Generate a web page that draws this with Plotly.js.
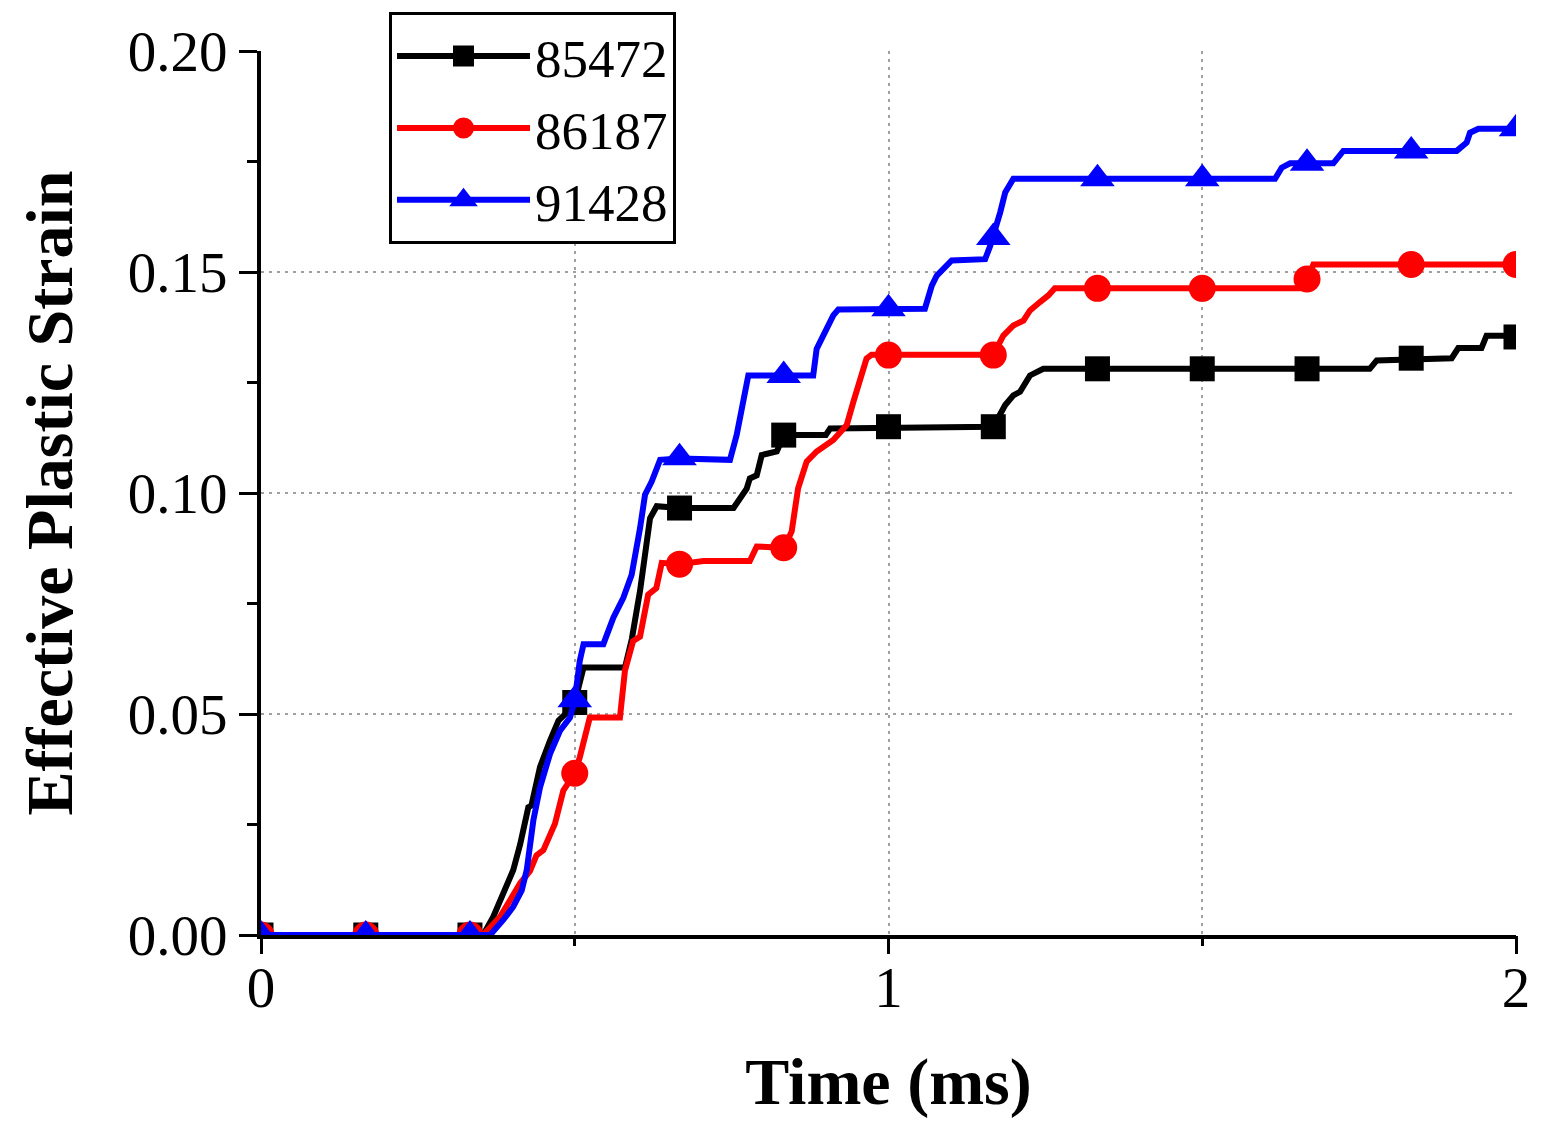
<!DOCTYPE html>
<html>
<head>
<meta charset="utf-8">
<script src="https://cdn.plot.ly/plotly-3.0.1.min.js"></script>
<style>
  html, body { margin: 0; padding: 0; background: #fff; }
  #graph { width: 1549px; height: 1132px; }
</style>
</head>
<body>
<div id="graph"></div>
<script>
// Data (time in ms, effective plastic strain)
const seriesNames = ["85472", "86187", "91428"];

const time85472 = [0, 0.354, 0.370, 0.3915, 0.402, 0.413, 0.426, 0.431, 0.4446, 0.4606, 0.474, 0.49, 0.5, 0.514, 0.58, 0.591, 0.604, 0.62, 0.6306, 0.667, 0.753, 0.774, 0.779, 0.79, 0.798, 0.822, 0.8335, 0.90, 0.907, 1.167, 1.186, 1.199, 1.2096, 1.2255, 1.2467, 1.767, 1.778, 1.8975, 1.908, 1.945, 1.953, 2.0];
const strain85472 = [0, 0, 0.0041, 0.0109, 0.0147, 0.0205, 0.0289, 0.0293, 0.038, 0.044, 0.0485, 0.0507, 0.0526, 0.0605, 0.0605, 0.067, 0.0778, 0.0943, 0.097, 0.0966, 0.0966, 0.101, 0.1033, 0.104, 0.1086, 0.1094, 0.1131, 0.1131, 0.1146, 0.115, 0.1199, 0.1221, 0.1229, 0.1266, 0.1281, 0.1281, 0.13, 0.1305, 0.1328, 0.1328, 0.1356, 0.1356];

const time86187 = [0, 0.354, 0.381, 0.402, 0.413, 0.4287, 0.439, 0.45, 0.4606, 0.4685, 0.4818, 0.5, 0.508, 0.524, 0.572, 0.58, 0.593, 0.604, 0.617, 0.63, 0.6386, 0.667, 0.705, 0.779, 0.79, 0.8335, 0.8457, 0.856, 0.8696, 0.8855, 0.912, 0.9335, 0.944, 0.9546, 0.965, 0.973, 1.167, 1.183, 1.199, 1.215, 1.2255, 1.2414, 1.2547, 1.265, 1.6558, 1.667, 1.677, 2.0];
const strain86187 = [0, 0, 0.0041, 0.0094, 0.0117, 0.0145, 0.018, 0.0192, 0.023, 0.0252, 0.0327, 0.0366, 0.0402, 0.0492, 0.0492, 0.0598, 0.0665, 0.0675, 0.077, 0.0785, 0.0842, 0.0839, 0.0846, 0.0846, 0.0879, 0.0876, 0.0913, 0.1011, 0.1071, 0.1094, 0.112, 0.1154, 0.1206, 0.1251, 0.1304, 0.1313, 0.1313, 0.1356, 0.1379, 0.139, 0.1413, 0.1432, 0.1447, 0.1463, 0.1463, 0.1484, 0.1517, 0.1517];

const time91428 = [0, 0.365, 0.386, 0.402, 0.4155, 0.4235, 0.434, 0.4446, 0.4606, 0.4765, 0.4924, 0.5, 0.508, 0.514, 0.5456, 0.5615, 0.5774, 0.5907, 0.604, 0.612, 0.6226, 0.636, 0.667, 0.7474, 0.758, 0.7686, 0.7766, 0.88, 0.8855, 0.896, 0.912, 0.92, 1.058, 1.069, 1.077, 1.0875, 1.1007, 1.154, 1.162, 1.178, 1.186, 1.199, 1.616, 1.6266, 1.64, 1.7089, 1.7248, 1.9055, 1.9214, 1.9267, 1.94, 2.0];
const strain91428 = [0, 0, 0.0034, 0.0064, 0.0101, 0.0147, 0.0259, 0.0334, 0.041, 0.0462, 0.0492, 0.0532, 0.062, 0.0658, 0.0658, 0.0718, 0.0763, 0.0815, 0.092, 0.0996, 0.1026, 0.1075, 0.1078, 0.1075, 0.1131, 0.1214, 0.1266, 0.1266, 0.1326, 0.1356, 0.1402, 0.1415, 0.1417, 0.1469, 0.1492, 0.1507, 0.1526, 0.1529, 0.1559, 0.1635, 0.168, 0.1711, 0.1711, 0.1736, 0.1746, 0.1746, 0.1774, 0.1774, 0.1793, 0.1815, 0.1824, 0.1824];

// symbols are only drawn at these times
const markerTime = [0, 0.167, 0.333, 0.5, 0.667, 0.833, 1.0, 1.167, 1.333, 1.5, 1.667, 1.833, 2.0];
const marker85472 = [0, 0, 0, 0.0526, 0.0966, 0.1131, 0.115, 0.115, 0.1281, 0.1281, 0.1281, 0.1305, 0.1353];
const marker86187 = [0, 0, 0, 0.0366, 0.0839, 0.0876, 0.1312, 0.1312, 0.1463, 0.1463, 0.1484, 0.1517, 0.1517];
const marker91428 = [0, 0, 0, 0.0532, 0.108, 0.1266, 0.1417, 0.1578, 0.1711, 0.1711, 0.1746, 0.1774, 0.1824];

const FONT = "Liberation Serif, Times New Roman, serif";

const styles = [
  { color: "#000000", symbol: "square", size: 25 },
  { color: "#ff0000", symbol: "circle", size: 27 },
  { color: "#0000ff", symbol: "triangle-up", size: 30 },
];
const lineTimes = [time85472, time86187, time91428];
const lineValues = [strain85472, strain86187, strain91428];
const markerValues = [marker85472, marker86187, marker91428];

let traces = [];

for (let i = 0; i < seriesNames.length; i++) {
  const st = styles[i];
  // the curve
  traces.push({
    x: lineTimes[i],
    y: lineValues[i],
    mode: "lines",
    type: "scatter",
    line: { color: st.color, width: 6 },
    showlegend: false,
    hoverinfo: "skip",
  });
  // sparse symbols on the curve
  traces.push({
    x: markerTime,
    y: markerValues[i],
    mode: "markers",
    type: "scatter",
    marker: { color: st.color, symbol: st.symbol, size: st.size, line: { width: 0 } },
    showlegend: false,
  });
}

// legend entries (line with symbol in the middle); they sit on the tick-only x axis
for (let i = 0; i < seriesNames.length; i++) {
  const st = styles[i];
  traces.push({
    x: [null],
    y: [null],
    xaxis: "x2",
    name: seriesNames[i],
    mode: "lines+markers",
    type: "scatter",
    line: { color: st.color, width: 6 },
    marker: { color: st.color, symbol: st.symbol, size: 16, line: { color: st.color, width: 5 } },
  });
}

const gridDash = "3px,5px";
const gridColor = "#a0a0a0";

const layout = {
  width: 1549,
  height: 1132,
  margin: { l: 261, r: 33, t: 48, b: 197 },
  paper_bgcolor: "#ffffff",
  plot_bgcolor: "#ffffff",
  font: { family: FONT, color: "#000000", size: 57 },
  showlegend: true,
  legend: {
    x: 0.102,
    y: 1.044,
    xanchor: "left",
    yanchor: "top",
    bgcolor: "#ffffff",
    bordercolor: "#000000",
    borderwidth: 3,
    font: { family: FONT, size: 53, color: "#000000" },
    itemwidth: 133,
    tracegroupgap: 0,
  },
  // labels, line and grid (labels sit close to the axis)
  xaxis: {
    range: [0, 2],
    tick0: 0,
    dtick: 1,
    ticks: "",
    showline: true,
    linewidth: 4,
    linecolor: "#000000",
    zeroline: false,
    showgrid: true,
    gridcolor: gridColor,
    gridwidth: 2,
    griddash: gridDash,
    tickfont: { family: FONT, size: 57 },
    minor: {
      dtick: 0.5,
      showgrid: true,
      gridcolor: gridColor,
      gridwidth: 2,
      griddash: gridDash,
    },
    title: {
      text: "Time (ms)",
      font: { family: FONT, size: 66, weight: "bold" },
      standoff: 40,
    },
  },
  // outward ticks only
  xaxis2: {
    overlaying: "x",
    side: "bottom",
    range: [0, 2],
    tick0: 0,
    dtick: 1,
    ticks: "outside",
    ticklen: 18,
    tickwidth: 3,
    tickcolor: "#000000",
    showticklabels: false,
    showline: false,
    showgrid: false,
    zeroline: false,
    minor: {
      dtick: 0.5,
      ticks: "outside",
      ticklen: 10,
      tickwidth: 3,
      tickcolor: "#000000",
      showgrid: false,
    },
  },
  yaxis: {
    range: [0, 0.2],
    tick0: 0,
    dtick: 0.05,
    tickformat: ".2f",
    ticks: "outside",
    ticklen: 18,
    tickwidth: 3,
    tickcolor: "#000000",
    showline: true,
    linewidth: 4,
    linecolor: "#000000",
    zeroline: false,
    showgrid: true,
    gridcolor: gridColor,
    gridwidth: 2,
    griddash: gridDash,
    tickfont: { family: FONT, size: 57 },
    minor: {
      dtick: 0.025,
      ticks: "outside",
      ticklen: 10,
      tickwidth: 3,
      tickcolor: "#000000",
      showgrid: false,
    },
    title: {
      text: "Effective Plastic Strain",
      font: { family: FONT, size: 66, weight: "bold" },
      standoff: 35,
    },
  },
};

const config = { staticPlot: true };

Plotly.newPlot("graph", traces, layout, config);
</script>
</body>
</html>
